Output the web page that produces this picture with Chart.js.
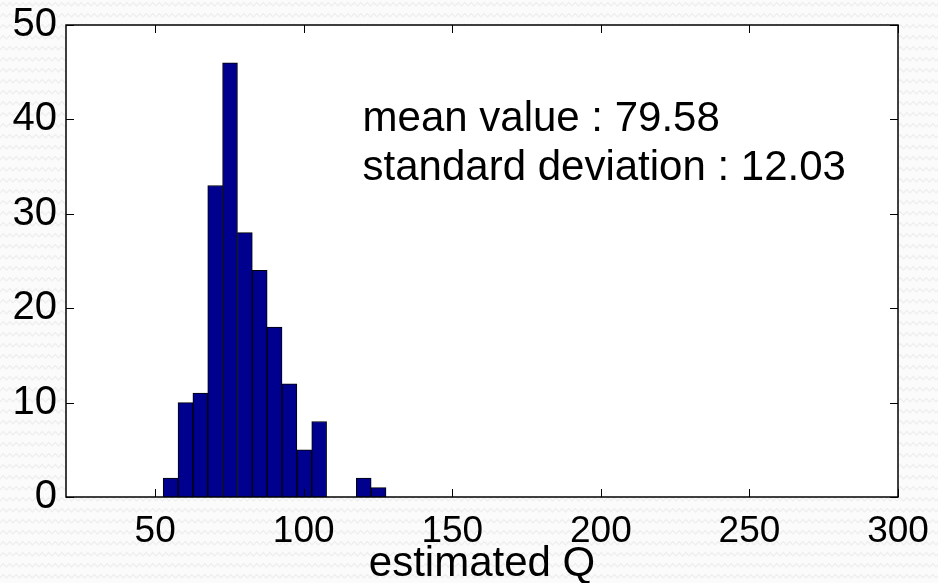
<!DOCTYPE html>
<html>
<head>
<meta charset="utf-8">
<script src="https://cdn.jsdelivr.net/npm/chart.js@4.4.1/dist/chart.umd.min.js"></script>
<style>
  html, body { margin: 0; padding: 0; }
  body {
    width: 938px;
    height: 583px;
    overflow: hidden;
    background: #fbfbfb url("data:image/svg+xml,%3Csvg xmlns='http://www.w3.org/2000/svg' width='13' height='11'%3E%3Cpath d='M0 6 L3.25 2.5 L6.5 6 L9.75 2.5 L13 6' fill='none' stroke='%23efefef' stroke-width='1.4'/%3E%3C/svg%3E") repeat;
  }
  canvas { display: block; }
</style>
</head>
<body>
<canvas id="histChart" width="938" height="583"></canvas>
<script>
// histogram of the estimated Q values, 5-wide bins
const binCenters = [55.2, 60.2, 65.2, 70.2, 75.2, 80.2, 85.2, 90.2, 95.2, 100.2, 105.2, 110.2, 115.2, 120.2, 125.2];
const binCounts  = [2, 10, 11, 33, 46, 28, 24, 18, 12, 5, 8, 0, 0, 2, 1];

const xTicks = [50, 100, 150, 200, 250, 300];
const yTicks = [0, 10, 20, 30, 40, 50];

const statLines = ['mean value : 79.58', 'standard deviation : 12.03'];
const statX = 119.8;
const statY = [38.8, 33.6];

const FONT = '"Liberation Sans", Arial, Helvetica, sans-serif';

// white axes box, inward ticks on all four sides, and the stats text
const axesBox = {
  id: 'axesBox',
  beforeDraw(chart) {
    const { ctx, chartArea: a } = chart;
    ctx.save();
    ctx.fillStyle = '#fff';
    ctx.fillRect(a.left, a.top, a.right - a.left, a.bottom - a.top);
    ctx.restore();
  },
  afterDatasetsDraw(chart) {
    const { ctx, chartArea: a, scales: { x, y } } = chart;
    const len = 8;
    ctx.save();
    ctx.strokeStyle = '#000';
    ctx.lineWidth = 1;
    ctx.beginPath();
    xTicks.forEach(v => {
      const px = Math.round(x.getPixelForValue(v)) + 0.5;
      ctx.moveTo(px, a.bottom); ctx.lineTo(px, a.bottom - len);
      ctx.moveTo(px, a.top); ctx.lineTo(px, a.top + len);
    });
    yTicks.forEach(v => {
      const py = Math.round(y.getPixelForValue(v)) + 0.5;
      ctx.moveTo(a.left, py); ctx.lineTo(a.left + len, py);
      ctx.moveTo(a.right, py); ctx.lineTo(a.right - len, py);
    });
    ctx.stroke();

    ctx.lineWidth = 1.5;
    ctx.strokeRect(a.left, a.top, a.right - a.left, a.bottom - a.top);

    ctx.fillStyle = '#000';
    ctx.font = '42px ' + FONT;
    ctx.textAlign = 'left';
    ctx.textBaseline = 'alphabetic';
    const tx = x.getPixelForValue(statX);
    statLines.forEach((t, i) => ctx.fillText(t, tx, y.getPixelForValue(statY[i])));
    ctx.restore();
  }
};

new Chart(document.getElementById('histChart'), {
  type: 'bar',
  data: {
    datasets: [{
      data: binCenters.map((c, i) => ({ x: c, y: binCounts[i] })),
      backgroundColor: '#00008f',
      borderColor: '#000',
      borderWidth: 1,
      borderSkipped: 'start',
      barPercentage: 1,
      categoryPercentage: 1
    }]
  },
  options: {
    responsive: false,
    animation: false,
    devicePixelRatio: 1,
    layout: { padding: { top: 25, right: 40, left: 0, bottom: 0 } },
    plugins: { legend: { display: false }, tooltip: { enabled: false } },
    scales: {
      x: {
        type: 'linear',
        min: 20,
        max: 300,
        offset: false,
        grid: { display: false, drawTicks: false },
        border: { display: false },
        ticks: {
          color: '#000',
          font: { family: FONT, size: 37 },
          padding: 13,
          maxRotation: 0,
          autoSkip: false
        },
        title: {
          display: true,
          text: 'estimated Q',
          color: '#000',
          font: { family: FONT, size: 42, lineHeight: 0.6 },
          padding: { top: 0, bottom: 6 }
        },
        afterBuildTicks: s => { s.ticks = xTicks.map(v => ({ value: v })); },
        afterFit: s => {
          s.height = 86;
          s.paddingLeft = 0;
          s.paddingRight = 0;
        }
      },
      y: {
        min: 0,
        max: 50,
        grid: { display: false, drawTicks: false },
        border: { display: false },
        ticks: {
          color: '#000',
          font: { family: FONT, size: 40 },
          padding: 9
        },
        afterBuildTicks: s => { s.ticks = yTicks.map(v => ({ value: v })); },
        afterFit: s => {
          s.width = 66;
          s.paddingTop = 0;
          s.paddingBottom = 0;
        }
      }
    }
  },
  plugins: [axesBox]
});
</script>
</body>
</html>
